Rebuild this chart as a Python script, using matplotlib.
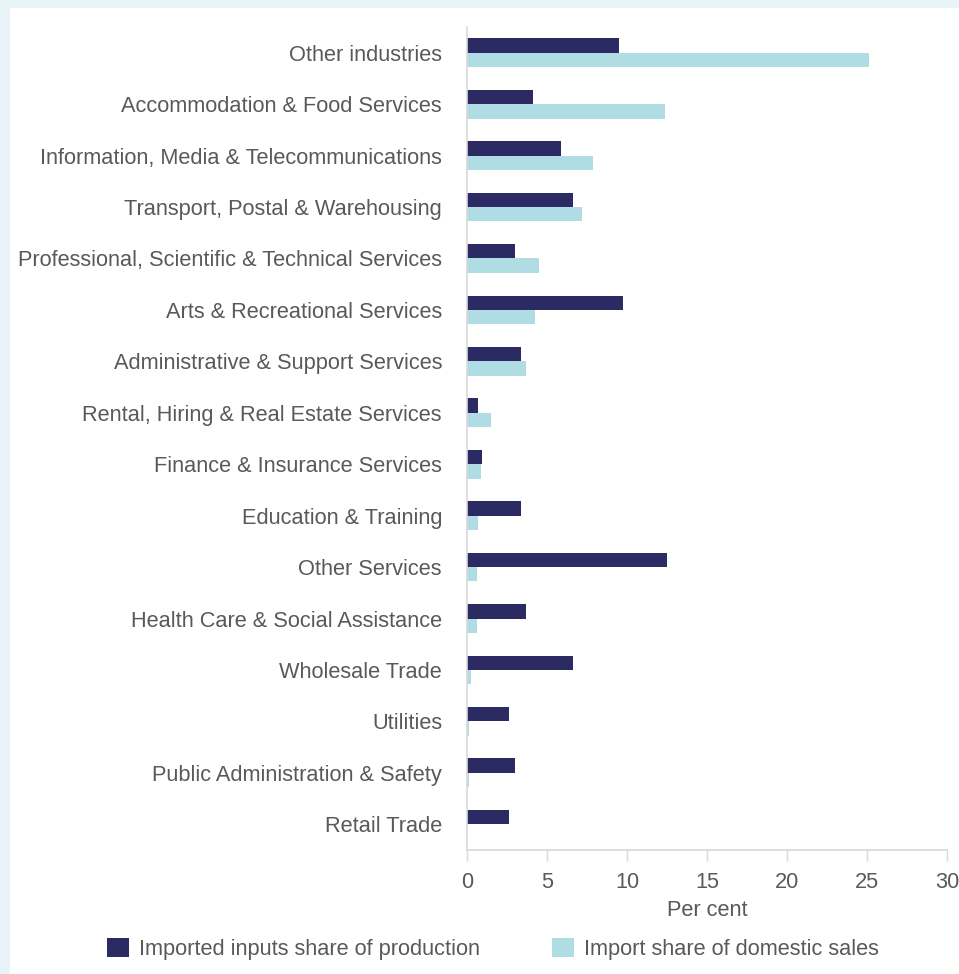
import numpy as np
import matplotlib.pyplot as plt
from matplotlib.patches import Rectangle

plt.rcParams['font.family'] = ['Liberation Sans', 'DejaVu Sans']

industries = ['Other industries', 'Accommodation & Food Services',
              'Information, Media & Telecommunications', 'Transport, Postal & Warehousing',
              'Professional, Scientific & Technical Services', 'Arts & Recreational Services',
              'Administrative & Support Services', 'Rental, Hiring & Real Estate Services',
              'Finance & Insurance Services', 'Education & Training', 'Other Services',
              'Health Care & Social Assistance', 'Wholesale Trade', 'Utilities',
              'Public Administration & Safety', 'Retail Trade']
imported_inputs = [9.5, 4.1, 5.9, 6.6, 3.0, 9.75, 3.4, 0.7, 0.95, 3.4, 12.5, 3.7, 6.6, 2.6, 3.0, 2.6]
import_share = [25.1, 12.4, 7.9, 7.2, 4.5, 4.25, 3.7, 1.5, 0.9, 0.7, 0.6, 0.6, 0.25, 0.1, 0.1, 0.0]

navy = '#2b2a62'
light = '#b0dde3'
grey = '#595959'
fs = 15.7

fig = plt.figure(figsize=(9.59, 9.74), dpi=100, facecolor='#e9f4f9')
fig.patches.append(Rectangle((10/959, 0), 1, 1 - 8/974, transform=fig.transFigure,
                             facecolor='white', edgecolor='none', zorder=-10))

ax = fig.add_axes([467/959, 1 - 850/974, 480/959, 823/974])
ax.set_facecolor('none')

y = np.arange(len(industries))
h = 0.28
ax.barh(y - h/2, imported_inputs, height=h, color=navy, label='Imported inputs share of production')
ax.barh(y + h/2, import_share, height=h, color=light, label='Import share of domestic sales')

ax.set_ylim(len(industries) - 0.5, -0.5)
ax.set_xlim(0, 30)
ax.set_xticks(range(0, 31, 5))
ax.set_yticks(y)
ax.set_yticklabels(industries, fontsize=fs, color=grey)
ax.tick_params(axis='y', length=0, pad=18)
ax.tick_params(axis='x', length=8, width=1, color='#d9d9d9', labelsize=fs, labelcolor=grey, pad=8)
for s in ['top', 'right']:
    ax.spines[s].set_visible(False)
for s in ['left', 'bottom']:
    ax.spines[s].set_color('#d9d9d9')
    ax.spines[s].set_linewidth(1.2)
ax.set_xlabel('Per cent', fontsize=fs, color=grey, labelpad=5)

fig.legend(loc='center', bbox_to_anchor=(493/959, 1 - 949/974), ncol=2, frameon=False,
           fontsize=fs, labelcolor=grey, handlelength=1.0, handleheight=1.0,
           handletextpad=0.45, columnspacing=3.3)

fig.savefig('out.png', dpi=100, facecolor=fig.get_facecolor())
